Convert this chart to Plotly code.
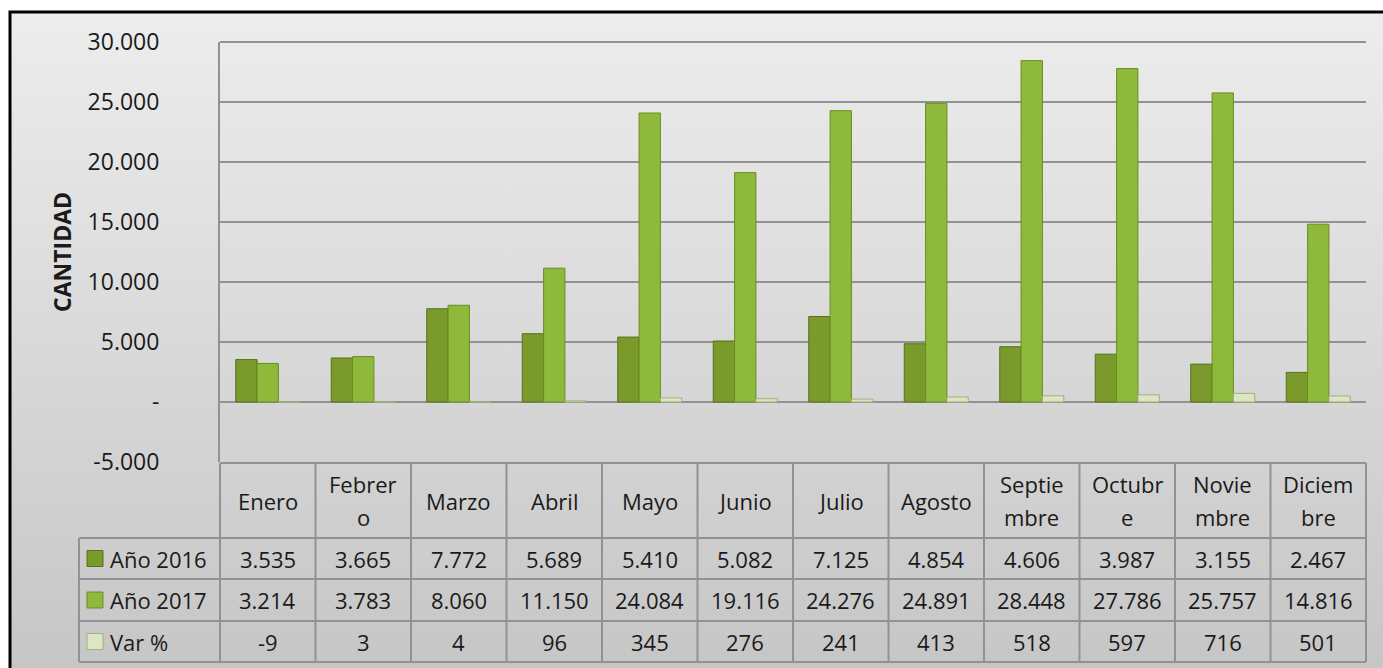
import base64

import plotly.graph_objects as go

W, H = 1383, 668

meses = ["Enero", "Febrero", "Marzo", "Abril", "Mayo", "Junio", "Julio",
         "Agosto", "Septiembre", "Octubre", "Noviembre", "Diciembre"]
meses_tabla = ["Enero", "Febrer|o", "Marzo", "Abril", "Mayo", "Junio", "Julio",
               "Agosto", "Septie|mbre", "Octubr|e", "Novie|mbre", "Diciem|bre"]
anio_2016 = [3535, 3665, 7772, 5689, 5410, 5082, 7125, 4854, 4606, 3987, 3155, 2467]
anio_2017 = [3214, 3783, 8060, 11150, 24084, 19116, 24276, 24891, 28448, 27786, 25757, 14816]
var_pct = [-9, 3, 4, 96, 345, 276, 241, 413, 518, 597, 716, 501]

y_ticks = [-5000, 0, 5000, 10000, 15000, 20000, 25000, 30000]
y_ticktext = ["-5.000", "-", "5.000", "10.000", "15.000", "20.000", "25.000", "30.000"]

FONT = "Open Sans, Liberation Sans, sans-serif"
TXT = "#1a1a1a"
GRID = "#929292"

series = [
    ("Año 2016", anio_2016, "#7a9a2c", "#56701c"),
    ("Año 2017", anio_2017, "#8fb93a", "#6a8c22"),
    ("Var %", var_pct, "#dbe6c2", "#9fb080"),
]


def px(x):
    return x / W


def py(y):
    return 1 - y / H


def fmt(v):
    return f"{v:,}".replace(",", ".")


# plot area / table geometry (pixels)
PL, PR, PT, PB = 220, 1366, 42, 462
TAB_L, HEAD_T, ROWS = 79, 463, [538, 579, 621, 662]
col_w = (PR - PL) / len(meses)

fig = go.Figure()
for name, vals, color, edge in series:
    fig.add_trace(
        go.Bar(
            x=meses,
            y=vals,
            name=name,
            marker=dict(color=color, line=dict(color=edge, width=1)),
            showlegend=False,
        )
    )

# background panel with vertical gradient and black frame
svg = f"""<svg xmlns='http://www.w3.org/2000/svg' width='{W}' height='{H}'>
<defs><linearGradient id='g' x1='0' y1='0' x2='0' y2='1'>
<stop offset='0' stop-color='#ededed'/><stop offset='1' stop-color='#c4c4c4'/>
</linearGradient></defs>
<rect x='10' y='12' width='{W + 20}' height='{H + 20}' fill='url(#g)' stroke='#000' stroke-width='3'/>
</svg>"""
bg_src = "data:image/svg+xml;base64," + base64.b64encode(svg.encode()).decode()

shapes = []
line = dict(color=GRID, width=2)
# top border of plot area
shapes.append(dict(type="line", xref="paper", yref="paper",
                   x0=px(PL), x1=px(PR), y0=py(PT), y1=py(PT), line=line))
# header top line
shapes.append(dict(type="line", xref="paper", yref="paper",
                   x0=px(PL), x1=px(PR), y0=py(HEAD_T), y1=py(HEAD_T), line=line))
# row lines
for y in ROWS:
    shapes.append(dict(type="line", xref="paper", yref="paper",
                       x0=px(TAB_L), x1=px(PR), y0=py(y), y1=py(y), line=line))
# vertical lines
shapes.append(dict(type="line", xref="paper", yref="paper",
                   x0=px(TAB_L), x1=px(TAB_L), y0=py(ROWS[0]), y1=py(ROWS[-1]), line=line))
for k in range(len(meses) + 1):
    x = PL + k * col_w
    shapes.append(dict(type="line", xref="paper", yref="paper",
                       x0=px(x), x1=px(x), y0=py(HEAD_T), y1=py(ROWS[-1]), line=line))

annotations = []
# header months (wrapped like the spreadsheet cell)
head_c = (HEAD_T + ROWS[0]) / 2
for m, label in zip(meses, meses_tabla):
    parts = label.split("|")
    offs = [0] if len(parts) == 1 else [-16.5, 16.5]
    for part, off in zip(parts, offs):
        annotations.append(dict(x=m, xref="x", y=py(head_c + off), yref="paper",
                                text=part, showarrow=False, xanchor="center", yanchor="middle",
                                font=dict(family=FONT, size=22, color=TXT)))
# rows
for i, (name, vals, color, edge) in enumerate(series):
    yc = (ROWS[i] + ROWS[i + 1]) / 2
    for m, v in zip(meses, vals):
        annotations.append(dict(x=m, xref="x", y=py(yc), yref="paper", text=fmt(v),
                                showarrow=False, xanchor="center", yanchor="middle",
                                font=dict(family=FONT, size=22, color=TXT)))
    annotations.append(dict(x=px(108), xref="paper", y=py(yc), yref="paper", text=name,
                            showarrow=False, xanchor="left", yanchor="middle",
                            font=dict(family=FONT, size=22, color=TXT)))
    shapes.append(dict(type="rect", xref="paper", yref="paper",
                       x0=px(87), x1=px(103), y0=py(yc - 8), y1=py(yc + 8),
                       fillcolor=color, line=dict(color=edge, width=1)))

annotations.append(dict(x=px(62), xref="paper", y=py(252), yref="paper", text="<b>CANTIDAD</b>",
                        textangle=-90, showarrow=False, xanchor="center", yanchor="middle",
                        font=dict(family=FONT, size=23, color=TXT)))

fig.update_layout(
    width=W,
    height=H,
    margin=dict(l=0, r=0, t=0, b=0, pad=0, autoexpand=False),
    paper_bgcolor="white",
    plot_bgcolor="white",
    barmode="group",
    bargap=0.33,
    bargroupgap=0,
    xaxis=dict(domain=[px(PL), px(PR)], showticklabels=False, showgrid=False,
               zeroline=False, showline=False, ticks="", automargin=False),
    yaxis=dict(domain=[py(PB), py(PT)], range=[-5000, 30000], tickvals=y_ticks,
               ticktext=y_ticktext, showgrid=True, gridcolor=GRID, gridwidth=2,
               zeroline=True, zerolinecolor=GRID, zerolinewidth=2,
               showline=True, linecolor=GRID, linewidth=2, ticks="",
               ticklabelstandoff=54, automargin=False,
               tickfont=dict(family=FONT, size=23, color=TXT)),
    images=[dict(source=bg_src, xref="paper", yref="paper", x=0, y=1, sizex=1, sizey=1,
                 sizing="stretch", layer="below")],
    shapes=shapes,
    annotations=annotations,
)

fig.write_html("out.html", config={"displayModeBar": False},
               post_script="document.body.style.margin='0';")
